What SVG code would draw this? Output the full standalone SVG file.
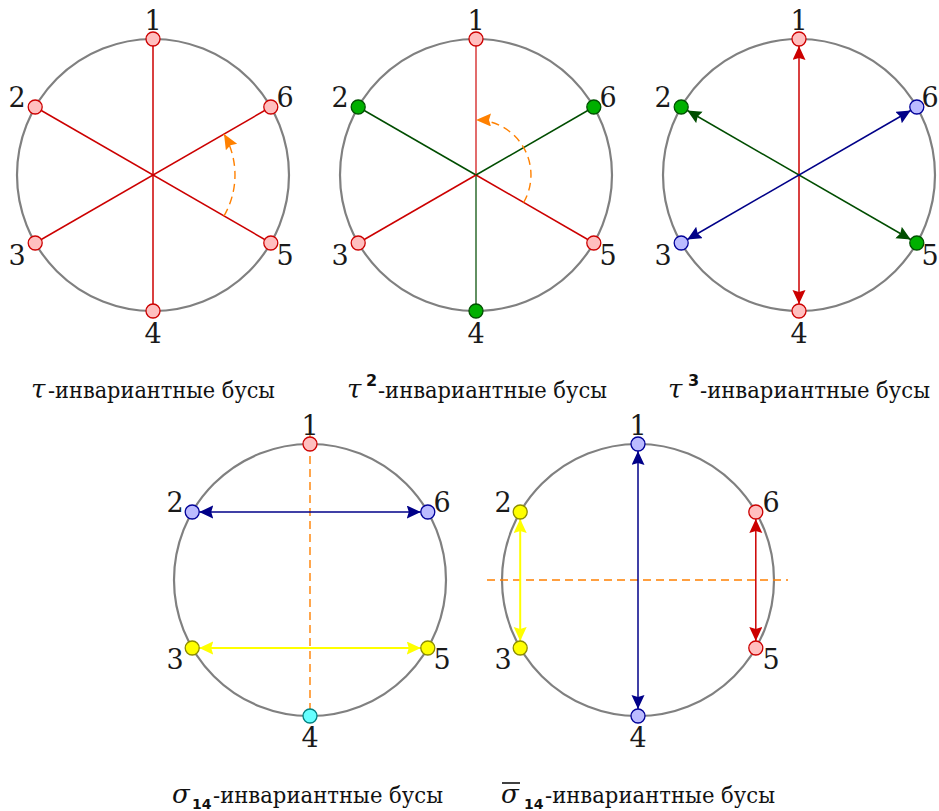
<svg xmlns="http://www.w3.org/2000/svg" width="939" height="811" viewBox="0 0 939 811">
<style>
.ring{fill:none;stroke:#808080;stroke-width:2.2}
.pk{fill:#ffbfbf;stroke:#cc0000;stroke-width:1.3}
.gn{fill:#00b000;stroke:#005000;stroke-width:1.3}
.bl{fill:#bbbbff;stroke:#000099;stroke-width:1.3}
.ye{fill:#ffff00;stroke:#8c8c00;stroke-width:1.3}
.cy{fill:#66ffff;stroke:#008080;stroke-width:1.3}
.lr{stroke:#cc0000;stroke-width:1.5;fill:none}
.lr2{stroke:#d93b3b;stroke-width:1.5;fill:none}
.lg{stroke:#004d00;stroke-width:1.5;fill:none}
.lg2{stroke:#2e6b2e;stroke-width:1.5;fill:none}
.lb{stroke:#000088;stroke-width:1.5;fill:none}
.ly{stroke:#ffff00;stroke-width:2;fill:none}
.or{stroke:#ff8000;stroke-width:1.4;fill:none;stroke-dasharray:8 5}
.num{font-family:'DejaVu Serif',serif;font-size:27px;fill:#1a1a1a;text-anchor:middle}
.cap{font-family:'DejaVu Serif',serif;font-size:22px;fill:#111}
.gr{font-family:'DejaVu Serif',serif;font-size:26px;font-style:italic;fill:#111}
.sup{font-family:'DejaVu Sans',sans-serif;font-size:16px;font-weight:bold;fill:#111}
.sub{font-family:'DejaVu Sans',sans-serif;font-size:14px;font-weight:bold;fill:#111}
</style>
<defs>
<marker id="aR" markerUnits="userSpaceOnUse" markerWidth="16" markerHeight="14" refX="14" refY="6.5" orient="auto-start-reverse"><path d="M0,0 L14,6.5 L0,13 L2,6.5 z" fill="#cc0000"/></marker>
<marker id="aG" markerUnits="userSpaceOnUse" markerWidth="16" markerHeight="14" refX="14" refY="6.5" orient="auto-start-reverse"><path d="M0,0 L14,6.5 L0,13 L2,6.5 z" fill="#004d00"/></marker>
<marker id="aB" markerUnits="userSpaceOnUse" markerWidth="16" markerHeight="14" refX="14" refY="6.5" orient="auto-start-reverse"><path d="M0,0 L14,6.5 L0,13 L2,6.5 z" fill="#000088"/></marker>
<marker id="aY" markerUnits="userSpaceOnUse" markerWidth="16" markerHeight="14" refX="14" refY="6.5" orient="auto-start-reverse"><path d="M0,0 L14,6.5 L0,13 L2,6.5 z" fill="#ffff00"/></marker>
<marker id="aO" markerUnits="userSpaceOnUse" markerWidth="17" markerHeight="14" refX="15" refY="6.5" orient="auto"><path d="M0,0 L15,6.5 L0,13 L2,6.5 z" fill="#ff8000"/></marker>
</defs>

<g id="rings">
<circle class="ring" cx="153" cy="175" r="136"/>
<circle class="ring" cx="476" cy="175" r="136"/>
<circle class="ring" cx="799" cy="175" r="136"/>
<circle class="ring" cx="310" cy="580" r="136"/>
<circle class="ring" cx="638" cy="580" r="136"/>
</g>

<g id="connectors">
<line class="lr" x1="153" y1="39" x2="153" y2="311"/>
<line class="lr" x1="35.2" y1="107" x2="270.8" y2="243"/>
<line class="lr" x1="35.2" y1="243" x2="270.8" y2="107"/>
<path class="or" d="M224,216 A82,82 0 0 0 224,134" marker-end="url(#aO)"/>
<line class="lr2" x1="476" y1="39" x2="476" y2="175"/>
<line class="lg2" x1="476" y1="175" x2="476" y2="311"/>
<line class="lg" x1="358.2" y1="107" x2="476" y2="175"/>
<line class="lr" x1="476" y1="175" x2="593.8" y2="243"/>
<line class="lr" x1="358.2" y1="243" x2="476" y2="175"/>
<line class="lg" x1="476" y1="175" x2="593.8" y2="107"/>
<path class="or" d="M523.6,202.5 A55,55 0 0 0 476,120" marker-end="url(#aO)"/>
<line class="lr" x1="799" y1="46" x2="799" y2="304" marker-start="url(#aR)" marker-end="url(#aR)"/>
<line class="lg" x1="687.3" y1="110.5" x2="910.7" y2="239.5" marker-start="url(#aG)" marker-end="url(#aG)"/>
<line class="lb" x1="910.7" y1="110.5" x2="687.3" y2="239.5" marker-start="url(#aB)" marker-end="url(#aB)"/>
<line class="or" x1="310" y1="430" x2="310" y2="716"/>
<line class="lb" x1="199.2" y1="512" x2="420.8" y2="512" marker-start="url(#aB)" marker-end="url(#aB)"/>
<line class="ly" x1="199.2" y1="648" x2="420.8" y2="648" marker-start="url(#aY)" marker-end="url(#aY)"/>
<line class="or" x1="487" y1="580" x2="788" y2="580"/>
<line class="lb" x1="638" y1="451" x2="638" y2="709" marker-start="url(#aB)" marker-end="url(#aB)"/>
<line class="ly" x1="520.2" y1="519" x2="520.2" y2="641" marker-start="url(#aY)" marker-end="url(#aY)"/>
<line class="lr" x1="755.8" y1="519" x2="755.8" y2="641" marker-start="url(#aR)" marker-end="url(#aR)"/>
</g>

<g id="d1-n1"><circle class="pk" cx="153" cy="39" r="7"/><text class="num" x="153" y="30">1</text></g>
<g id="d1-n2"><circle class="pk" cx="35.2" cy="107" r="7"/><text class="num" x="17" y="107">2</text></g>
<g id="d1-n3"><circle class="pk" cx="35.2" cy="243" r="7"/><text class="num" x="17" y="265">3</text></g>
<g id="d1-n4"><circle class="pk" cx="153" cy="311" r="7"/><text class="num" x="153" y="343">4</text></g>
<g id="d1-n5"><circle class="pk" cx="270.8" cy="243" r="7"/><text class="num" x="285" y="265">5</text></g>
<g id="d1-n6"><circle class="pk" cx="270.8" cy="107" r="7"/><text class="num" x="285" y="107">6</text></g>

<g id="d2-n1"><circle class="pk" cx="476" cy="39" r="7"/><text class="num" x="476" y="30">1</text></g>
<g id="d2-n2"><circle class="gn" cx="358.2" cy="107" r="7"/><text class="num" x="340" y="107">2</text></g>
<g id="d2-n3"><circle class="pk" cx="358.2" cy="243" r="7"/><text class="num" x="340" y="265">3</text></g>
<g id="d2-n4"><circle class="gn" cx="476" cy="311" r="7"/><text class="num" x="476" y="343">4</text></g>
<g id="d2-n5"><circle class="pk" cx="593.8" cy="243" r="7"/><text class="num" x="608" y="265">5</text></g>
<g id="d2-n6"><circle class="gn" cx="593.8" cy="107" r="7"/><text class="num" x="608" y="107">6</text></g>

<g id="d3-n1"><circle class="pk" cx="799" cy="39" r="7"/><text class="num" x="799" y="30">1</text></g>
<g id="d3-n2"><circle class="gn" cx="681.2" cy="107" r="7"/><text class="num" x="663" y="107">2</text></g>
<g id="d3-n3"><circle class="bl" cx="681.2" cy="243" r="7"/><text class="num" x="663" y="265">3</text></g>
<g id="d3-n4"><circle class="pk" cx="799" cy="311" r="7"/><text class="num" x="799" y="343">4</text></g>
<g id="d3-n5"><circle class="gn" cx="916.8" cy="243" r="7"/><text class="num" x="930" y="265">5</text></g>
<g id="d3-n6"><circle class="bl" cx="916.8" cy="107" r="7"/><text class="num" x="930" y="107">6</text></g>

<g id="d4-n1"><circle class="pk" cx="310" cy="444" r="7"/><text class="num" x="310" y="435">1</text></g>
<g id="d4-n2"><circle class="bl" cx="192.2" cy="512" r="7"/><text class="num" x="175" y="512">2</text></g>
<g id="d4-n3"><circle class="ye" cx="192.2" cy="648" r="7"/><text class="num" x="175" y="669">3</text></g>
<g id="d4-n4"><circle class="cy" cx="310" cy="716" r="7"/><text class="num" x="310" y="747">4</text></g>
<g id="d4-n5"><circle class="ye" cx="427.8" cy="648" r="7"/><text class="num" x="442" y="669">5</text></g>
<g id="d4-n6"><circle class="bl" cx="427.8" cy="512" r="7"/><text class="num" x="442" y="512">6</text></g>

<g id="d5-n1"><circle class="bl" cx="638" cy="444" r="7"/><text class="num" x="638" y="435">1</text></g>
<g id="d5-n2"><circle class="ye" cx="520.2" cy="512" r="7"/><text class="num" x="503" y="512">2</text></g>
<g id="d5-n3"><circle class="ye" cx="520.2" cy="648" r="7"/><text class="num" x="503" y="669">3</text></g>
<g id="d5-n4"><circle class="bl" cx="638" cy="716" r="7"/><text class="num" x="638" y="747">4</text></g>
<g id="d5-n5"><circle class="pk" cx="755.8" cy="648" r="7"/><text class="num" x="771" y="669">5</text></g>
<g id="d5-n6"><circle class="pk" cx="755.8" cy="512" r="7"/><text class="num" x="771" y="512">6</text></g>

<g id="cap1">
<text class="gr" x="31" y="398">τ</text>
<text class="cap" x="48" y="398" textLength="227" lengthAdjust="spacingAndGlyphs">-инвариантные бусы</text>
</g>
<g id="cap2">
<text class="gr" x="347" y="398">τ</text>
<text class="sup" x="366" y="386">2</text>
<text class="cap" x="378" y="398" textLength="229" lengthAdjust="spacingAndGlyphs">-инвариантные бусы</text>
</g>
<g id="cap3">
<text class="gr" x="668" y="398">τ</text>
<text class="sup" x="688" y="386">3</text>
<text class="cap" x="700" y="398" textLength="230" lengthAdjust="spacingAndGlyphs">-инвариантные бусы</text>
</g>
<g id="cap4">
<text class="gr" x="172" y="803">σ</text>
<text class="sub" x="192" y="809">14</text>
<text class="cap" x="213" y="803" textLength="230" lengthAdjust="spacingAndGlyphs">-инвариантные бусы</text>
</g>
<g id="cap5">
<line x1="502" y1="783" x2="520" y2="783" stroke="#111" stroke-width="1.6"/>
<text class="gr" x="501" y="803">σ</text>
<text class="sub" x="524" y="809">14</text>
<text class="cap" x="545" y="803" textLength="230" lengthAdjust="spacingAndGlyphs">-инвариантные бусы</text>
</g>
</svg>
